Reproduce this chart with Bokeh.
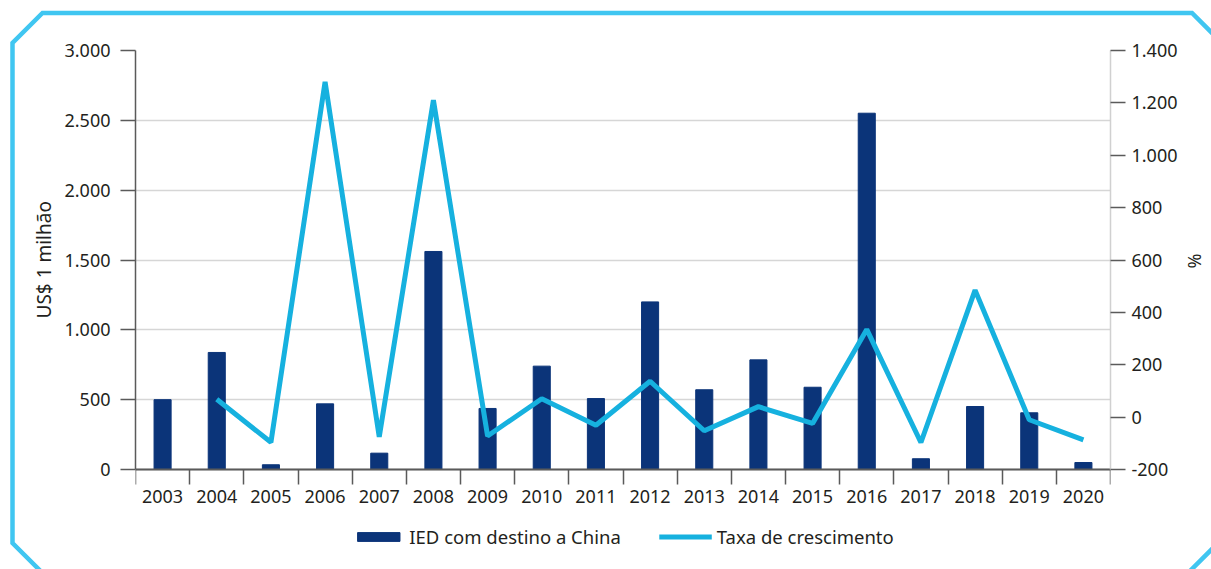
from urllib.parse import quote
from bokeh.plotting import figure
from bokeh.models import (Range1d, LinearAxis, FixedTicker, InlineStyleSheet, Title,
                          CustomJSTickFormatter, Legend, LegendItem, ColumnDataSource)
from bokeh.embed import file_html
from bokeh.resources import INLINE

# ---- data ----
years = ["2003", "2004", "2005", "2006", "2007", "2008", "2009", "2010", "2011",
         "2012", "2013", "2014", "2015", "2016", "2017", "2018", "2019", "2020"]
ied_china = [500, 838, 34, 470, 117, 1561, 437, 740, 508, 1200, 571, 785, 589,
             2551, 77, 451, 406, 50]
growth_rate = [None, 68, -96, 1280, -75, 1210, -72, 70, -31, 137, -52, 40, -24,
               335, -97, 485, -10, -87]
left_ticks = [0, 500, 1000, 1500, 2000, 2500, 3000]
right_ticks = [-200, 0, 200, 400, 600, 800, 1000, 1200, 1400]
bar_label = "IED com destino a China"
line_label = "Taxa de crescimento"
left_title = "US$ 1 milhão"
right_title = "%"

FONT = "Noto Sans"
TXT = "#231f20"
BAR = "#0b3479"
LINE = "#16b1df"
FRAME = "#40c6f1"
W, H = 1211, 569

# layout: plotting area 975 x 419 px, with a 100 px strip below it (inside the frame)
# that holds the year labels and the legend
PLOT_W, PLOT_H, STRIP = 975, 419, 100
ext = STRIP / PLOT_H

n = len(years)
src = ColumnDataSource(dict(
    pos=[i + 0.5 for i in range(n)],
    year=years,
    ied=ied_china,
    growth=[float("nan") if g is None else g for g in growth_rate],
))

l0, l1 = left_ticks[0], left_ticks[-1]
r0, r1 = right_ticks[0], right_ticks[-1]

p = figure(frame_width=PLOT_W, frame_height=PLOT_H + STRIP,
           min_border_left=135, min_border_right=101,
           min_border_top=50, min_border_bottom=0,
           x_range=Range1d(0, n), y_range=Range1d(l0 - ext * (l1 - l0), l1),
           x_axis_type=None, output_backend="svg", toolbar_location=None)
p.outline_line_color = None
p.background_fill_color = "white"
p.border_fill_color = None
p.border_fill_alpha = 0
p.xgrid.visible = False
p.extra_y_ranges = {"pct": Range1d(r0 - ext * (r1 - r0), r1)}

fmt = CustomJSTickFormatter(code="return tick.toFixed(0).replace(/\\B(?=(\\d{3})+(?!\\d))/g, '.');")

# left axis
ya = p.yaxis[0]
ya.bounds = (l0, l1)
ya.ticker = FixedTicker(ticks=left_ticks)
ya.formatter = fmt
ya.major_label_text_font = FONT
ya.major_label_text_font_size = "18px"
ya.major_label_text_color = TXT
ya.major_label_standoff = 10
ya.major_tick_out = 15
ya.major_tick_in = 0
ya.minor_tick_line_color = None
ya.axis_line_color = "#5a5a5a"
ya.axis_line_width = 1.5
ya.major_tick_line_color = "#5a5a5a"
ya.major_tick_line_width = 1.5

p.ygrid.ticker = FixedTicker(ticks=left_ticks)
p.ygrid.grid_line_color = "#d6d6d6"
p.ygrid.grid_line_width = 1.5

# right axis
ra = LinearAxis(y_range_name="pct", ticker=FixedTicker(ticks=right_ticks), formatter=fmt,
                bounds=(r0, r1))
ra.major_label_text_font = FONT
ra.major_label_text_font_size = "18px"
ra.major_label_text_color = TXT
ra.major_label_standoff = 6
ra.major_tick_out = 15
ra.major_tick_in = 0
ra.minor_tick_line_color = None
ra.axis_line_color = "#d0d0d0"
ra.axis_line_width = 1.5
ra.major_tick_line_color = "#5a5a5a"
ra.major_tick_line_width = 1.5
p.add_layout(ra, "right")

# axis titles, centred on the value span (0..3000 / -200..1400) rather than the whole frame
p.add_layout(Title(text=left_title, align="left", offset=251, standoff=10,
                   text_font=FONT, text_font_size="19px", text_font_style="normal",
                   text_color=TXT), "left")
p.add_layout(Title(text=right_title, align="left", offset=203, standoff=4,
                   text_font=FONT, text_font_size="18px", text_font_style="normal",
                   text_color=TXT), "right")

# bottom axis at value 0: labels at category centres, tick marks at category boundaries
xa = LinearAxis(fixed_location=l0,
                ticker=FixedTicker(ticks=[i + 0.5 for i in range(n)],
                                   minor_ticks=list(range(n + 1))),
                formatter=CustomJSTickFormatter(args=dict(labels=years),
                                                code="return labels[Math.floor(tick)];"))
xa.major_tick_line_color = None
xa.major_tick_out = 15
xa.major_tick_in = 0
xa.minor_tick_out = 15
xa.minor_tick_in = 0
xa.minor_tick_line_color = "#5a5a5a"
xa.minor_tick_line_width = 1.5
xa.axis_line_color = "#5a5a5a"
xa.axis_line_width = 2
xa.major_label_text_font = FONT
xa.major_label_text_font_size = "18px"
xa.major_label_text_color = TXT
xa.major_label_standoff = 5
p.add_layout(xa, "below")

bars = p.vbar(x="pos", top="ied", width=0.315, source=src, fill_color=BAR, line_color=BAR)
line = p.line(x="pos", y="growth", source=src, y_range_name="pct",
              line_color=LINE, line_width=5, line_join="bevel")

legend = Legend(items=[LegendItem(label=bar_label, renderers=[bars]),
                       LegendItem(label=line_label, renderers=[line])],
                orientation="horizontal", location="bottom_center",
                glyph_width=53, glyph_height=11, label_standoff=5, spacing=38,
                label_text_font=FONT, label_text_font_size="18.5px", label_text_color=TXT,
                border_line_color=None, background_fill_alpha=0, padding=0, margin=20)
p.add_layout(legend, "center")

# octagonal light-blue frame around the chart, as a CSS background of the plot element
pts = [(42.5, 13), (1192, 13), (1216, 37), (1216, 545), (1186, 575),
       (44.5, 575), (12.5, 543), (12.5, 43)]
svg = (f"<svg xmlns='http://www.w3.org/2000/svg' width='{W}' height='{H}'>"
       f"<polygon points='{' '.join(f'{x},{y}' for x, y in pts)}' fill='none' "
       f"stroke='{FRAME}' stroke-width='4.5'/></svg>")
css = (":host { background-color: white; background-image: url(\"data:image/svg+xml;utf8,"
       + quote(svg) + "\"); background-repeat: no-repeat; background-position: 0 0; }")
p.stylesheets = [InlineStyleSheet(css=css)]

open("out.html", "w").write(file_html(p, INLINE))
